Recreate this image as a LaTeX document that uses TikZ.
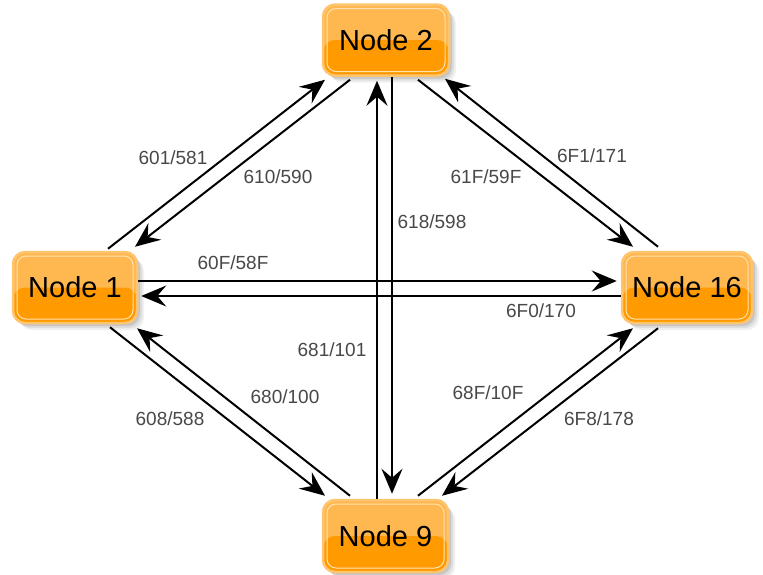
\documentclass[tikz,border=0pt]{standalone}
\usepackage{fontspec}
\setmainfont{Liberation Sans}
\usetikzlibrary{arrows.meta,calc,shadows}
\definecolor{ortop}{HTML}{FFB84F}
\definecolor{orbot}{HTML}{FF9A00}
\definecolor{orline}{HTML}{FFC46E}
\definecolor{orinner}{HTML}{FFE2B0}
\definecolor{lbl}{HTML}{484848}
\tikzset{
  nd/.style={rounded corners=12pt, fill=ortop, draw=orline, line width=2.5pt,
    minimum height=71pt, inner sep=0pt, text=black,
    font=\fontsize{29}{30}\selectfont,
    drop shadow={shadow xshift=7pt, shadow yshift=-7pt, opacity=0.06, fill=black},
    drop shadow={shadow xshift=5pt, shadow yshift=-5pt, opacity=0.08, fill=black},
    drop shadow={shadow xshift=3pt, shadow yshift=-3pt, opacity=0.10, fill=black},
    path picture={
      \fill[orbot] (path picture bounding box.west) rectangle (path picture bounding box.south east);
      \draw[orinner, line width=1pt, rounded corners=9pt]
        ([shift={(4pt,4pt)}]path picture bounding box.south west) rectangle
        ([shift={(-4pt,-4pt)}]path picture bounding box.north east);}},
  conn/.style={line width=2pt, black, -{Stealth[length=25pt,width=21pt,inset=9pt]}},
  lab/.style={text=lbl, font=\fontsize{19}{20}\selectfont, inner sep=1pt}
}
\begin{document}
\begin{tikzpicture}[x=1pt,y=-1pt]
\useasboundingbox (0,0) rectangle (763,574);

\node[nd, minimum width=124pt] (n1) at (75,287.5) {Node 1};
\node[nd, minimum width=126pt] (n2) at (386,40) {Node 2};
\node[nd, minimum width=130pt] (n16) at (687,287.5) {Node 16};
\node[nd, minimum width=125pt, minimum height=72pt] (n9) at (385.5,536) {Node 9};

% Node 1 <-> Node 2
\draw[conn] ($(n1.north)+(33,-2)$) -- ($(n2.south)+(-61,3)$);
\draw[conn] ($(n2.south)+(-36,3)$) -- ($(n1.north)+(60,-4)$);
% Node 2 <-> Node 9
\draw[conn] ($(n9.north)+(-8.5,0)$) -- ($(n2.south)+(-9,4)$);
\draw[conn] ($(n2.south)+(6,0)$) -- ($(n9.north)+(6.5,-5)$);
% Node 1 <-> Node 16
\draw[conn] ($(n1.east)+(0,-6.5)$) -- ($(n16.west)+(-4,-6.5)$);
\draw[conn] ($(n16.west)+(0,8.5)$) -- ($(n1.east)+(3,8.5)$);
% Node 2 <-> Node 16
\draw[conn] ($(n2.south)+(32,3)$) -- ($(n16.north)+(-54,-4)$);
\draw[conn] ($(n16.north)+(-29,-4)$) -- ($(n2.south)+(59,2)$);
% Node 1 <-> Node 9
\draw[conn] ($(n1.south)+(35,3)$) -- ($(n9.north)+(-60.5,-3)$);
\draw[conn] ($(n9.north)+(-35.5,-3)$) -- ($(n1.south)+(62,4)$);
% Node 9 <-> Node 16
\draw[conn] ($(n9.north)+(32.5,-3)$) -- ($(n16.south)+(-54,4)$);
\draw[conn] ($(n16.south)+(-29,4)$) -- ($(n9.north)+(56.5,-3)$);

% labels
\node[lab] (l1) at (173,158) {601/581};
\node[lab] (l2) at (278,177) {610/590};
\node[lab] (l3) at (233,263) {60F/58F};
\node[lab] (l4) at (432,222) {618/598};
\node[lab] (l5) at (592,156) {6F1/171};
\node[lab] (l6) at (486,177) {61F/59F};
\node[lab] (l7) at (541,311) {6F0/170};
\node[lab] (l8) at (332,350) {681/101};
\node[lab] (l9) at (170,419) {608/588};
\node[lab] (l10) at (285,397) {680/100};
\node[lab] (l11) at (488,393) {68F/10F};
\node[lab] (l12) at (599,419) {6F8/178};
\end{tikzpicture}
\end{document}
